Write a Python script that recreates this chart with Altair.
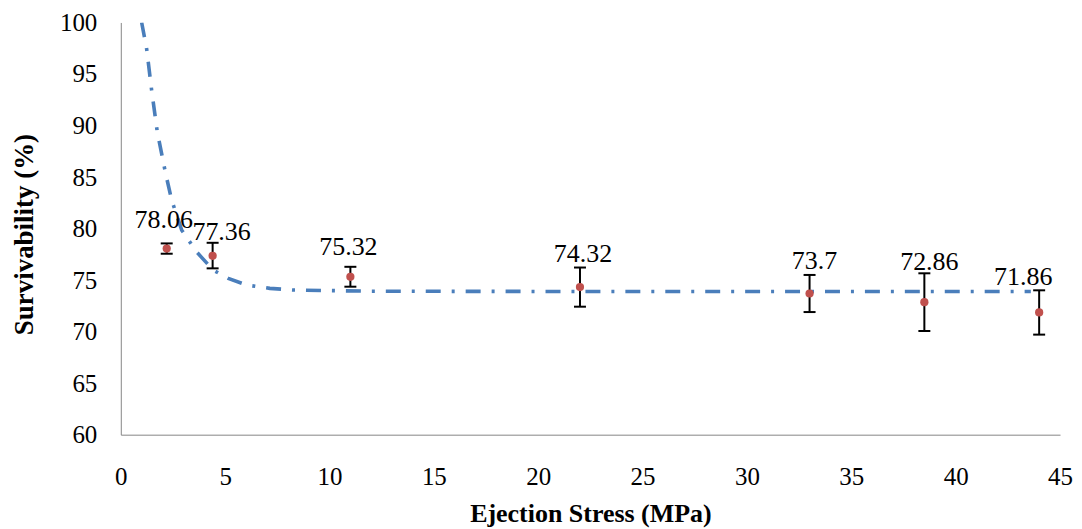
import altair as alt
import pandas as pd

stress = [2.2, 4.4, 11.0, 22.0, 33.0, 38.5, 44.0]
survivability = [78.06, 77.36, 75.32, 74.32, 73.7, 72.86, 71.86]
err_low = [77.56, 76.14, 74.36, 72.42, 71.9, 70.06, 69.71]
err_high = [78.56, 78.62, 76.29, 76.22, 75.5, 75.66, 74.01]
labels = ["78.06", "77.36", "75.32", "74.32", "73.7", "72.86", "71.86"]

# Trend (fit) curve points
fit_x = [1.00, 1.24, 1.48, 1.75, 2.15, 2.44, 2.92, 3.63, 4.43, 5.15, 6.03,
         7.14, 8.24, 12.0, 20.0, 30.0, 43.6]
fit_y = [100.0, 97.43, 93.39, 89.36, 85.33, 82.75, 79.84, 77.74, 75.97, 75.17,
         74.52, 74.20, 74.04, 73.92, 73.9, 73.9, 73.9]

x_ticks = [0, 5, 10, 15, 20, 25, 30, 35, 40, 45]
y_ticks = [60, 65, 70, 75, 80, 85, 90, 95, 100]

# label nudges (style only)
label_dx = [-3, 9, -2, 3, 5, 5, -16]
label_dy = [-21, -16, -22, -25, -25, -32, -28]

pts = pd.DataFrame({"x": stress, "y": survivability, "lo": err_low,
                    "hi": err_high, "label": labels,
                    "i": list(range(len(stress)))})
fit = pd.DataFrame({"x": fit_x, "y": fit_y})

FONT = "Liberation Serif"
xscale = alt.Scale(domain=[0, 45], nice=False, zero=False)
yscale = alt.Scale(domain=[60, 100], nice=False, zero=False)

x_axis = alt.Axis(values=x_ticks, grid=False, ticks=False, tickSize=0,
                  domainColor="#868686", domainWidth=1,
                  labelFont=FONT, labelFontSize=25, labelColor="black",
                  labelPadding=30, labelFlush=False, labelOverlap=False,
                  title="Ejection Stress (MPa)", titleFont=FONT,
                  titleFontSize=26, titleFontWeight="bold", titleColor="black",
                  titleBaseline="alphabetic", titleY=87, titleX=470.5,
                  titleAlign="center")
y_axis = alt.Axis(values=y_ticks, grid=False, ticks=False, tickSize=0,
                  domainColor="#868686", domainWidth=1,
                  labelFont=FONT, labelFontSize=25, labelColor="black",
                  labelPadding=24, labelFlush=False, labelOverlap=False,
                  title="Survivability (%)", titleFont=FONT,
                  titleFontSize=27, titleFontWeight="bold", titleColor="black",
                  titleBaseline="alphabetic", titleX=-88, titleY=212,
                  titleAlign="center", titleAngle=270)

X = alt.X("x:Q", scale=xscale, axis=x_axis)
Y = alt.Y("y:Q", scale=yscale, axis=y_axis)
Xn = alt.X("x:Q", scale=xscale)

bars = alt.Chart(pts).mark_rule(color="black", strokeWidth=2).encode(
    x=Xn, y=alt.Y("lo:Q", scale=yscale), y2="hi:Q")
cap_lo = alt.Chart(pts).mark_tick(orient="horizontal", size=12, thickness=2,
                                  color="black", opacity=1).encode(
    x=Xn, y=alt.Y("lo:Q", scale=yscale))
cap_hi = alt.Chart(pts).mark_tick(orient="horizontal", size=12, thickness=2,
                                  color="black", opacity=1).encode(
    x=Xn, y=alt.Y("hi:Q", scale=yscale))

line = alt.Chart(fit).mark_line(color="#4A7EBB", strokeWidth=3.6,
                                strokeDash=[15, 11, 3, 11], strokeCap="butt",
                                clip=True).encode(x=X, y=Y)

dots = alt.Chart(pts).mark_circle(size=68, color="#C0504D", opacity=1).encode(
    x=Xn, y=alt.Y("y:Q", scale=yscale))

texts = []
for i in range(len(stress)):
    texts.append(
        alt.Chart(pts).transform_filter(alt.datum.i == i).mark_text(
            font=FONT, fontSize=26, color="black", align="center",
            baseline="alphabetic", dx=label_dx[i], dy=label_dy[i]).encode(
            x=Xn, y=alt.Y("y:Q", scale=yscale), text="label:N"))

chart = alt.layer(line, bars, cap_lo, cap_hi, dots, *texts).properties(
    width=941, height=413,
    autosize=alt.AutoSizeParams(type="none"),
    padding={"left": 113, "top": 14, "right": 14, "bottom": 94},
    background="white",
).configure_view(stroke=None)

chart.save("out.html", embed_options={"renderer": "svg", "actions": False})
